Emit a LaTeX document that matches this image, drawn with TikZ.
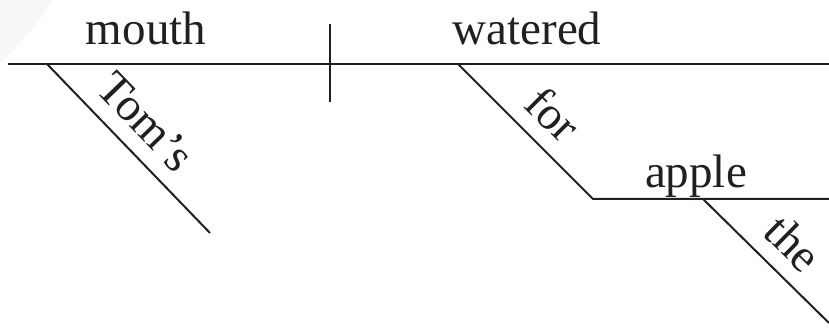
\documentclass[tikz,border=0pt]{standalone}
\usepackage{fontspec}
\setmainfont{Liberation Serif}
\usepackage{xcolor}
\usetikzlibrary{positioning,calc}
\definecolor{ink}{HTML}{231F20}

\begin{document}
\begin{tikzpicture}[
  x=1pt, y=-1pt,
  font=\fontsize{47}{52}\selectfont,
  rule/.style={draw=ink, line width=2.4pt},
  slant/.style={draw=ink, line width=2pt, line join=miter},
  word/.style={anchor=base, inner sep=0pt, text=ink},
  mod/.style={sloped, anchor=south, inner xsep=0pt, inner ysep=15pt,
              text depth=0pt, text=ink}
]
  \useasboundingbox (0,0) rectangle (829,328);
  \fill[gray!6] (0,0) -- (53,0) .. controls (36,26) and (16,48) .. (0,63) -- cycle;

  % base line and subject / predicate bar
  \coordinate (lft) at (8,64);
  \coordinate (rgt) at (829,64);
  \coordinate (bar-t) at (330,24);
  \coordinate (bar-b) at (330,102);
  \draw[rule] (lft) -- (rgt);
  \draw[rule] (bar-t) -- (bar-b);

  \node[word] (mouth) at (146,45) {mouth};
  \node[word] (watered) at (527,45) {watered};

  % modifiers
  \coordinate (toms-a) at (47,64);
  \coordinate (toms-b) at (210,233);
  \draw[slant] (toms-a) -- node[mod, pos=0.47] (toms) {Tom’s} (toms-b);

  \coordinate (for-a) at (458,64);
  \coordinate (for-b) at (593,199);
  \coordinate (obj-r) at (829,199);
  \draw[slant] (for-a) -- node[mod, pos=0.54] (for) {for} (for-b) -- (obj-r);
  \node[word] (apple) at (696,188) {apple};

  \coordinate (the-a) at (703,199);
  \coordinate (the-b) at (829,323);
  \draw[slant] (the-a) -- node[mod, pos=0.54] (the) {the} (the-b);
\end{tikzpicture}
\end{document}
